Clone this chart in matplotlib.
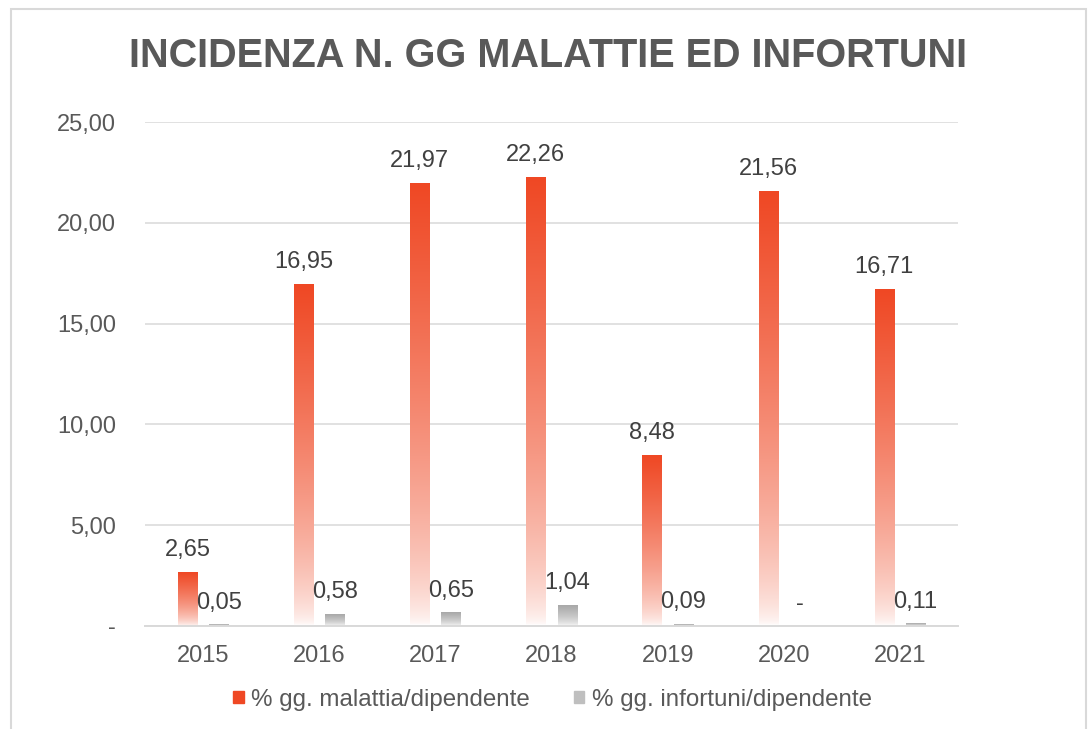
import numpy as np
import matplotlib.pyplot as plt
from matplotlib.patches import Patch, Rectangle
from matplotlib.colors import to_rgb

plt.rcParams['font.family'] = ['Liberation Sans', 'DejaVu Sans']

# dati
anni = ['2015', '2016', '2017', '2018', '2019', '2020', '2021']
malattia = [2.65, 16.95, 21.97, 22.26, 8.48, 21.56, 16.71]
infortuni = [0.05, 0.58, 0.65, 1.04, 0.09, 0.0, 0.11]
serie_nomi = ['% gg. malattia/dipendente', '% gg. infortuni/dipendente']
yticks = [0, 5, 10, 15, 20, 25]

ROSSO = '#EF4824'
GRIGIO = '#A8A8A8'
TESTO = '#595959'


def fmt(v):
    if v == 0:
        return '-'
    return f'{v:.2f}'.replace('.', ',')


def gradiente(colore):
    c = np.array(to_rgb(colore))
    f = np.linspace(0, 1, 256) ** 0.6
    rgb = (1 - f[:, None]) * np.ones(3) + f[:, None] * c
    return rgb[:, None, :]


def barre_sfumate(ax, x, valori, larghezza, colore):
    img = gradiente(colore)
    for xi, v in zip(x, valori):
        if v > 0:
            ax.imshow(img, extent=[xi - larghezza / 2, xi + larghezza / 2, 0, v],
                      origin='lower', aspect='auto', zorder=3, interpolation='bilinear')
        # etichetta (anche per valore zero, mostrato come "-")
        ax.annotate(fmt(v), (xi, v), xytext=(0, 8), textcoords='offset points',
                    ha='center', va='bottom', fontsize=17, color='#404040')


fig = plt.figure(figsize=(10.92, 7.29), dpi=100)
ax = fig.add_axes([0.1328, 0.1413, 0.7445, 0.6913])

x = np.arange(len(anni))
w = 0.165
off = 0.135
barre_sfumate(ax, x - off, malattia, w, ROSSO)
barre_sfumate(ax, x + off, infortuni, w, GRIGIO)

ax.set_xlim(-0.5, len(anni) - 0.5)
ax.set_ylim(0, 25)
ax.set_xticks(x)
ax.set_xticklabels(anni)
ax.set_yticks(yticks)
ax.set_yticklabels([fmt(t) for t in yticks])
ax.tick_params(axis='both', length=0, labelsize=17, labelcolor=TESTO)
ax.tick_params(axis='y', pad=21)
ax.tick_params(axis='x', pad=14)
ax.grid(axis='y', color='#D9D9D9', lw=1.1, zorder=0)
ax.set_axisbelow(True)
for s in ['top', 'right', 'left']:
    ax.spines[s].set_visible(False)
ax.spines['bottom'].set_color('#D9D9D9')
ax.spines['bottom'].set_linewidth(1.4)
ax.spines['bottom'].set_zorder(4)

fig.text(0.502, 0.923, 'INCIDENZA N. GG MALATTIE ED INFORTUNI', ha='center', va='center',
         fontsize=28.5, fontweight='bold', color=TESTO)

handles = [Patch(color=ROSSO), Patch(color='#BFBFBF')]
fig.legend(handles, serie_nomi, loc='center', bbox_to_anchor=(0.506, 0.040), ncol=2,
           frameon=False, fontsize=17.4, labelcolor=TESTO, handlelength=0.42,
           handleheight=0.42, handletextpad=0.3, columnspacing=1.85)

# cornice
fig.patches.append(Rectangle((11 / 1092, -0.02), 1075 / 1092, 1.02 - 9 / 729,
                             transform=fig.transFigure, fill=False,
                             edgecolor='#D9D9D9', lw=1.5))

fig.savefig('out.png', dpi=100)
